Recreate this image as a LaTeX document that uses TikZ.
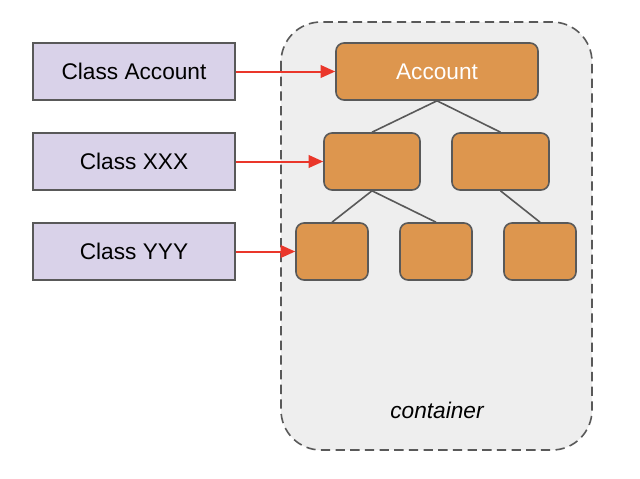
\documentclass[tikz,border=0pt]{standalone}
\usepackage{fontspec}
\setmainfont{Liberation Sans}
\usepackage{tikz}
\usetikzlibrary{arrows.meta, positioning, calc}

\definecolor{classfill}{RGB}{217,210,233}
\definecolor{objfill}{RGB}{221,150,78}
\definecolor{edgegray}{RGB}{89,89,89}
\definecolor{boxfill}{RGB}{238,238,238}
\definecolor{refred}{RGB}{234,54,42}

\begin{document}
\begin{tikzpicture}[x=0.75pt, y=-0.75pt, font=\fontsize{17}{20}\selectfont,
    classbox/.style={draw=edgegray, line width=1.2pt, fill=classfill, minimum width=151.5pt, minimum height=42.75pt, inner sep=0pt},
    objbox/.style={draw=edgegray, line width=1.2pt, fill=objfill, rounded corners=6pt, minimum height=42.75pt, inner sep=0pt},
    link/.style={draw=edgegray, line width=1.2pt},
    refarrow/.style={color=refred, line width=1.5pt, -{Triangle[length=11pt, width=9.5pt]}}]
        \useasboundingbox (0,0) rectangle (640,479);

        % container
        \draw[draw=edgegray, fill=boxfill, line width=1.2pt, dash pattern=on 7pt off 4pt, rounded corners=30pt] (281,22) rectangle (592,450);
        \node[font=\fontsize{17}{20}\selectfont\itshape] (label) at (437,410) {container};

        % classes
        \node[classbox] (account) at (134,71.5) {Class Account};
        \node[classbox] (xxx) at (134,161.5) {Class XXX};
        \node[classbox] (yyy) at (134,251.5) {Class YYY};

        % objects
        \node[objbox, minimum width=151.5pt, text=white] (root) at (437,71.5) {Account};
        \node[objbox, minimum width=72pt] (midl) at (372,161.5) {};
        \node[objbox, minimum width=72.75pt] (midr) at (500.5,161.5) {};
        \node[objbox, minimum width=54pt] (leafa) at (332,251.5) {};
        \node[objbox, minimum width=54pt] (leafb) at (436,251.5) {};
        \node[objbox, minimum width=54pt] (leafc) at (540,251.5) {};

        \draw[link] (root.south) -- (midl.north);
        \draw[link] (root.south) -- (midr.north);
        \draw[link] (midl.south) -- (leafa.north);
        \draw[link] (midl.south) -- (leafb.north);
        \draw[link] (midr.south) -- (leafc.north);

        \draw[refarrow] (account) -- (root);
        \draw[refarrow] (xxx) -- (midl);
        \draw[refarrow] (yyy) -- (leafa);
    \end{tikzpicture}
\end{document}
